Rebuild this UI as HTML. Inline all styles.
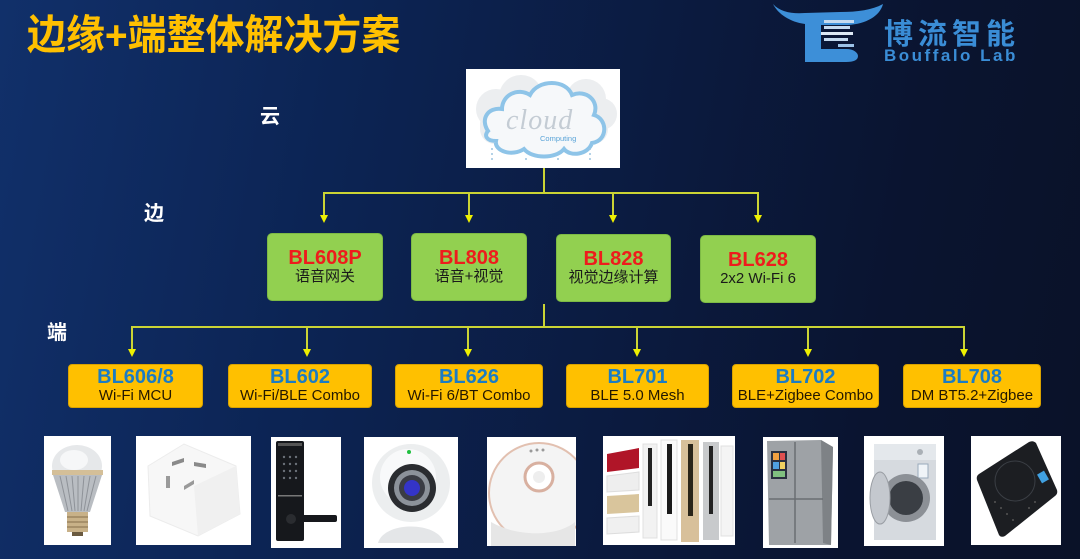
<!DOCTYPE html>
<html><head><meta charset="utf-8">
<style>
*{margin:0;padding:0;box-sizing:border-box}
html,body{width:1080px;height:559px;overflow:hidden}
body{position:relative;background:linear-gradient(100deg,#11306a 0%,#0c2454 30%,#0b1a3e 60%,#0a1430 80%,#0a1228 100%);font-family:"Liberation Sans","Noto Sans CJK SC",sans-serif}
.abs{position:absolute}
.title{left:27px;top:15px;font-size:41px;line-height:41px;font-weight:bold;color:#ffc000;white-space:nowrap;font-family:"Liberation Sans","Noto Sans CJK SC",sans-serif;transform:scaleX(0.95);transform-origin:0 0}
.lbl{font-size:20px;line-height:20px;font-weight:bold;color:#fff;width:24px;text-align:center}
.g{position:absolute;background:#92d050;border:1px solid #7dba45;border-radius:5px;display:flex;flex-direction:column;align-items:center;justify-content:center}
.g .t{color:#ee1c1c;font-weight:bold;font-size:20px;line-height:20px}
.g .s{color:#1a1a1a;font-size:15px;line-height:18px;margin-top:0px}
.y{position:absolute;background:#ffc000;border:1px solid #d9a200;border-radius:4px;display:flex;flex-direction:column;align-items:center;justify-content:center;top:364px;height:44px}
.y .t{color:#1b7cc4;font-weight:bold;font-size:20px;line-height:20px}
.y .s{color:#241800;font-size:15px;line-height:18px;white-space:nowrap}
.ph{position:absolute;background:#fff}
</style></head><body>

<div class="abs title">边缘+端整体解决方案</div>

<!-- logo -->
<svg class="abs" style="left:768px;top:0" width="120" height="66" viewBox="768 0 120 66">
  <path d="M773,4 C780,12 792,14 805,13 L840,12 C858,12 872,10 883,4 C880,16 866,24 848,25 L821,25 L821,49 L846,49 C854,49 858,53 858,56 C858,60 854,62 846,62 L805,62 L805,24 C790,22 778,14 773,4 Z" fill="#3d8fd8"/>
  <rect x="824" y="20" width="30" height="3" fill="#c4daf0"/>
  <rect x="824" y="26" width="26" height="3" fill="#c4daf0"/>
  <rect x="821" y="32" width="32" height="3" fill="#dde8f4"/>
  <rect x="824" y="38" width="24" height="3" fill="#c4daf0"/>
  <rect x="838" y="44" width="16" height="3" fill="#9cc2e8"/>
</svg>
<div class="abs" style="left:884px;top:20px;font-size:29px;line-height:30px;font-weight:bold;color:#3a8dd6;letter-spacing:5px;white-space:nowrap">博流智能</div>
<div class="abs" style="left:884px;top:47px;font-size:17px;line-height:17px;font-weight:bold;color:#3a8dd6;letter-spacing:2.5px;white-space:nowrap">Bouffalo Lab</div>

<!-- level labels -->
<div class="abs lbl" style="left:258px;top:107px">云</div>
<div class="abs lbl" style="left:142px;top:204px">边</div>
<div class="abs lbl" style="left:45px;top:323px">端</div>

<!-- cloud image -->
<svg class="abs" style="left:466px;top:69px" width="154" height="99" viewBox="0 0 154 99">
  <rect width="154" height="99" fill="#fff"/>
  <g fill="#eceef0">
    <circle cx="30" cy="40" r="20"/><circle cx="55" cy="28" r="22"/><circle cx="120" cy="30" r="20"/><circle cx="135" cy="45" r="16"/>
    <rect x="14" y="40" width="128" height="35" rx="15"/>
  </g>
  <g fill="#f6f8fa" stroke="#8ec4e8" stroke-width="4">
    <path d="M22,62 C14,50 22,38 36,40 C36,26 52,18 64,26 C72,10 100,10 106,26 C120,20 134,32 128,46 C142,50 142,72 126,74 C122,86 104,88 98,80 C90,90 66,90 58,80 C46,88 28,82 30,72 C20,72 18,66 22,62 Z"/>
  </g>
  <text x="40" y="60" font-family="Liberation Serif,serif" font-style="italic" font-size="28" fill="#c4ccd4" letter-spacing="1">cloud</text>
  <text x="74" y="72" font-family="Liberation Sans,sans-serif" font-size="7.5" fill="#5aa4d8">Computing</text>
  <g fill="#9cc4e0">
    <circle cx="26" cy="80" r="1"/><circle cx="26" cy="85" r="1"/><circle cx="26" cy="90" r="1"/>
    <circle cx="60" cy="90" r="1"/><circle cx="92" cy="90" r="1"/>
    <circle cx="124" cy="80" r="1"/><circle cx="124" cy="85" r="1"/><circle cx="124" cy="90" r="1"/>
  </g>
</svg>

<!-- connectors -->
<svg class="abs" style="left:0;top:0" width="1080" height="559">
  <g stroke="#cbd434" stroke-width="2" fill="none">
    <line x1="544" y1="168" x2="544" y2="194"/>
    <line x1="323" y1="193" x2="759" y2="193"/>
    <line x1="324" y1="193" x2="324" y2="216"/>
    <line x1="469" y1="193" x2="469" y2="216"/>
    <line x1="613" y1="193" x2="613" y2="216"/>
    <line x1="758" y1="193" x2="758" y2="216"/>
    <line x1="544" y1="304" x2="544" y2="328"/>
    <line x1="131" y1="327" x2="965" y2="327"/>
    <line x1="132" y1="327" x2="132" y2="350"/>
    <line x1="307" y1="327" x2="307" y2="350"/>
    <line x1="468" y1="327" x2="468" y2="350"/>
    <line x1="637" y1="327" x2="637" y2="350"/>
    <line x1="808" y1="327" x2="808" y2="350"/>
    <line x1="964" y1="327" x2="964" y2="350"/>
  </g>
  <g fill="#eef000">
    <polygon points="320,215 328,215 324,223"/>
    <polygon points="465,215 473,215 469,223"/>
    <polygon points="609,215 617,215 613,223"/>
    <polygon points="754,215 762,215 758,223"/>
    <polygon points="128,349 136,349 132,357"/>
    <polygon points="303,349 311,349 307,357"/>
    <polygon points="464,349 472,349 468,357"/>
    <polygon points="633,349 641,349 637,357"/>
    <polygon points="804,349 812,349 808,357"/>
    <polygon points="960,349 968,349 964,357"/>
  </g>
</svg>

<!-- green boxes -->
<div class="g" style="left:267px;top:233px;width:116px;height:68px"><div class="t">BL608P</div><div class="s">语音网关</div></div>
<div class="g" style="left:411px;top:233px;width:116px;height:68px"><div class="t">BL808</div><div class="s">语音+视觉</div></div>
<div class="g" style="left:556px;top:234px;width:115px;height:68px"><div class="t">BL828</div><div class="s">视觉边缘计算</div></div>
<div class="g" style="left:700px;top:235px;width:116px;height:68px"><div class="t">BL628</div><div class="s">2x2 Wi-Fi 6</div></div>

<!-- yellow boxes -->
<div class="y" style="left:68px;width:135px"><div class="t">BL606/8</div><div class="s">Wi-Fi MCU</div></div>
<div class="y" style="left:228px;width:144px"><div class="t">BL602</div><div class="s">Wi-Fi/BLE Combo</div></div>
<div class="y" style="left:395px;width:148px"><div class="t">BL626</div><div class="s">Wi-Fi 6/BT Combo</div></div>
<div class="y" style="left:566px;width:143px"><div class="t">BL701</div><div class="s">BLE 5.0 Mesh</div></div>
<div class="y" style="left:732px;width:147px"><div class="t">BL702</div><div class="s">BLE+Zigbee Combo</div></div>
<div class="y" style="left:903px;width:138px"><div class="t">BL708</div><div class="s">DM BT5.2+Zigbee</div></div>

<!-- product photos -->
<!-- bulb -->
<svg class="ph" style="left:44px;top:436px" width="67" height="109" viewBox="0 0 67 109">
  <rect width="67" height="109" fill="#fff"/>
  <ellipse cx="33" cy="30" rx="25" ry="21" fill="#e6e8ea"/>
  <ellipse cx="30" cy="24" rx="14" ry="10" fill="#f6f7f8"/>
  <rect x="8" y="34" width="51" height="5" fill="#d4bf98"/>
  <path d="M9,39 L58,39 L46,76 L21,76 Z" fill="#b9bdc2"/>
  <g stroke="#8e9298" stroke-width="1"><line x1="16" y1="40" x2="24" y2="75"/><line x1="22" y1="40" x2="28" y2="75"/><line x1="28" y1="40" x2="31" y2="75"/><line x1="34" y1="40" x2="34" y2="75"/><line x1="40" y1="40" x2="37" y2="75"/><line x1="46" y1="40" x2="40" y2="75"/><line x1="52" y1="40" x2="43" y2="75"/></g>
  <rect x="23" y="76" width="21" height="20" fill="#c8b188"/>
  <g stroke="#9c8660" stroke-width="1.5"><line x1="23" y1="81" x2="44" y2="81"/><line x1="23" y1="86" x2="44" y2="86"/><line x1="23" y1="91" x2="44" y2="91"/></g>
  <rect x="28" y="96" width="11" height="4" fill="#6a5a40"/>
</svg>
<!-- socket -->
<svg class="ph" style="left:136px;top:436px" width="115" height="109" viewBox="0 0 115 109">
  <rect width="115" height="109" fill="#fff"/>
  <path d="M12,30 L48,8 L100,30 L104,78 L62,100 L14,80 Z" fill="#f7f7f7" stroke="#ececec"/>
  <path d="M62,100 L104,78 L100,30 L58,50 Z" fill="#f0f0f0"/>
  <path d="M36,26 L48,22 L48,26 L36,30 Z" fill="#8a8a8a"/>
  <path d="M58,26 L70,28 L70,32 L58,30 Z" fill="#8a8a8a"/>
  <rect x="30" y="40" width="4" height="12" fill="#9a9a9a"/>
  <path d="M48,50 L58,44 L58,48 L48,54 Z" fill="#9a9a9a"/>
</svg>
<!-- lock -->
<svg class="ph" style="left:271px;top:437px" width="70" height="111" viewBox="0 0 70 111">
  <rect width="70" height="111" fill="#fff"/>
  <rect x="5" y="4" width="28" height="100" rx="2" fill="#16181c"/>
  <rect x="7" y="6" width="24" height="3" fill="#555"/>
  <g fill="#6a7078"><circle cx="13" cy="20" r="1.2"/><circle cx="19" cy="20" r="1.2"/><circle cx="25" cy="20" r="1.2"/><circle cx="13" cy="27" r="1.2"/><circle cx="19" cy="27" r="1.2"/><circle cx="25" cy="27" r="1.2"/><circle cx="13" cy="34" r="1.2"/><circle cx="19" cy="34" r="1.2"/><circle cx="25" cy="34" r="1.2"/><circle cx="13" cy="41" r="1.2"/><circle cx="19" cy="41" r="1.2"/><circle cx="25" cy="41" r="1.2"/></g>
  <rect x="7" y="58" width="24" height="1.5" fill="#777"/>
  <rect x="18" y="78" width="48" height="7" rx="2" fill="#16181c"/>
  <circle cx="20" cy="82" r="5" fill="#2a2c30"/>
</svg>
<!-- camera -->
<svg class="ph" style="left:364px;top:437px" width="94" height="111" viewBox="0 0 94 111">
  <rect width="94" height="111" fill="#fff"/>
  <path d="M14,106 C20,84 74,84 80,106 Z" fill="#e4e6e8"/>
  <circle cx="47" cy="46" r="39" fill="#eceeef"/>
  <circle cx="44" cy="40" r="28" fill="#f8f9fa"/>
  <circle cx="48" cy="51" r="24" fill="#2a2c30"/>
  <circle cx="48" cy="51" r="18" fill="#8c929a"/>
  <circle cx="48" cy="51" r="13" fill="#3a3c44"/>
  <circle cx="48" cy="51" r="8" fill="#3434c8"/>
  <circle cx="45" cy="15" r="2" fill="#20c040"/>
</svg>
<!-- robot vacuum -->
<svg class="ph" style="left:487px;top:437px" width="89" height="109" viewBox="0 0 89 109">
  <rect width="89" height="109" fill="#fff"/>
  <circle cx="52" cy="56" r="50" fill="#f4f4f4" stroke="#e2c0b0" stroke-width="2"/>
  <circle cx="52" cy="40" r="14" fill="#fff" stroke="#d8b0a0" stroke-width="3"/>
  <circle cx="52" cy="40" r="6" fill="#eee"/>
  <g fill="#999"><circle cx="44" cy="14" r="1.5"/><circle cx="50" cy="13" r="1.5"/><circle cx="56" cy="13" r="1.5"/></g>
  <path d="M4,85 C30,100 70,100 88,85 L88,109 L4,109 Z" fill="#e6e6e6"/>
</svg>
<!-- air conditioners -->
<svg class="ph" style="left:603px;top:436px" width="132" height="109" viewBox="0 0 132 109">
  <rect width="132" height="109" fill="#fff"/>
  <path d="M4,18 L36,12 L36,32 L4,36 Z" fill="#b01528"/>
  <path d="M4,40 L36,36 L36,54 L4,56 Z" fill="#eeeeee" stroke="#ddd"/>
  <path d="M4,60 L36,58 L36,76 L4,78 Z" fill="#d9c59c"/>
  <path d="M4,82 L36,80 L36,96 L4,98 Z" fill="#f0f0f0" stroke="#ddd"/>
  <rect x="40" y="8" width="14" height="94" fill="#f2f2f2" stroke="#e0e0e0"/>
  <rect x="45" y="12" width="4" height="58" fill="#222"/>
  <rect x="58" y="4" width="16" height="100" fill="#fafafa" stroke="#e0e0e0"/>
  <rect x="64" y="8" width="5" height="70" fill="#1a1a1a"/>
  <rect x="78" y="4" width="18" height="102" fill="#d8c09a"/>
  <rect x="85" y="8" width="5" height="72" fill="#2a2418"/>
  <rect x="100" y="6" width="16" height="98" fill="#c8cacc"/>
  <rect x="106" y="10" width="4" height="68" fill="#222"/>
  <rect x="118" y="10" width="12" height="90" fill="#f4f4f4" stroke="#e0e0e0"/>
</svg>
<!-- fridge -->
<svg class="ph" style="left:763px;top:437px" width="75" height="111" viewBox="0 0 75 111">
  <rect width="75" height="111" fill="#fff"/>
  <path d="M4,4 L58,3 L70,10 L68,108 L6,108 Z" fill="#9ea2a6"/>
  <path d="M58,3 L70,10 L68,108 L60,106 Z" fill="#7e8286"/>
  <line x1="32" y1="5" x2="32" y2="106" stroke="#6a6e72" stroke-width="1.5"/>
  <line x1="6" y1="62" x2="60" y2="62" stroke="#6a6e72" stroke-width="1.5"/>
  <rect x="8" y="14" width="16" height="28" fill="#2a3040"/>
  <rect x="10" y="16" width="6" height="7" fill="#f0a040"/><rect x="17" y="16" width="5" height="7" fill="#e05050"/>
  <rect x="10" y="25" width="6" height="7" fill="#50a0e0"/><rect x="17" y="25" width="5" height="7" fill="#f0d060"/>
  <rect x="10" y="34" width="12" height="6" fill="#80c080"/>
</svg>
<!-- washer -->
<svg class="ph" style="left:864px;top:436px" width="80" height="110" viewBox="0 0 80 110">
  <rect width="80" height="110" fill="#fff"/>
  <rect x="10" y="8" width="62" height="96" fill="#d6dadf"/>
  <rect x="10" y="8" width="62" height="16" fill="#e4e8ec"/>
  <circle cx="56" cy="16" r="3" fill="#aab0b6"/>
  <rect x="54" y="28" width="10" height="14" fill="#f0f4f8" stroke="#9ab"/>
  <circle cx="42" cy="62" r="24" fill="#8c9096"/>
  <circle cx="42" cy="62" r="17" fill="#3a3e44"/>
  <ellipse cx="16" cy="62" rx="10" ry="26" fill="#c4c8ce" stroke="#9a9ea4"/>
</svg>
<!-- cooktop -->
<svg class="ph" style="left:971px;top:436px" width="90" height="109" viewBox="0 0 90 109">
  <rect width="90" height="109" fill="#fff"/>
  <path d="M8,38 L58,6 Q62,4 65,7 L86,54 Q87,58 84,60 L34,100 Q30,102 28,99 L6,44 Q5,40 8,38 Z" fill="#1c1e22"/>
  <circle cx="44" cy="45" r="20" fill="none" stroke="#3a3e44" stroke-width="1"/>
  <rect x="68" y="36" width="8" height="10" fill="#40a0e0" transform="rotate(-30 72 41)"/>
  <g fill="#555"><circle cx="24" cy="66" r="1"/><circle cx="30" cy="72" r="1"/><circle cx="36" cy="78" r="1"/><circle cx="42" cy="84" r="1"/><circle cx="58" cy="72" r="1"/><circle cx="64" cy="66" r="1"/></g>
</svg>

</body></html>
